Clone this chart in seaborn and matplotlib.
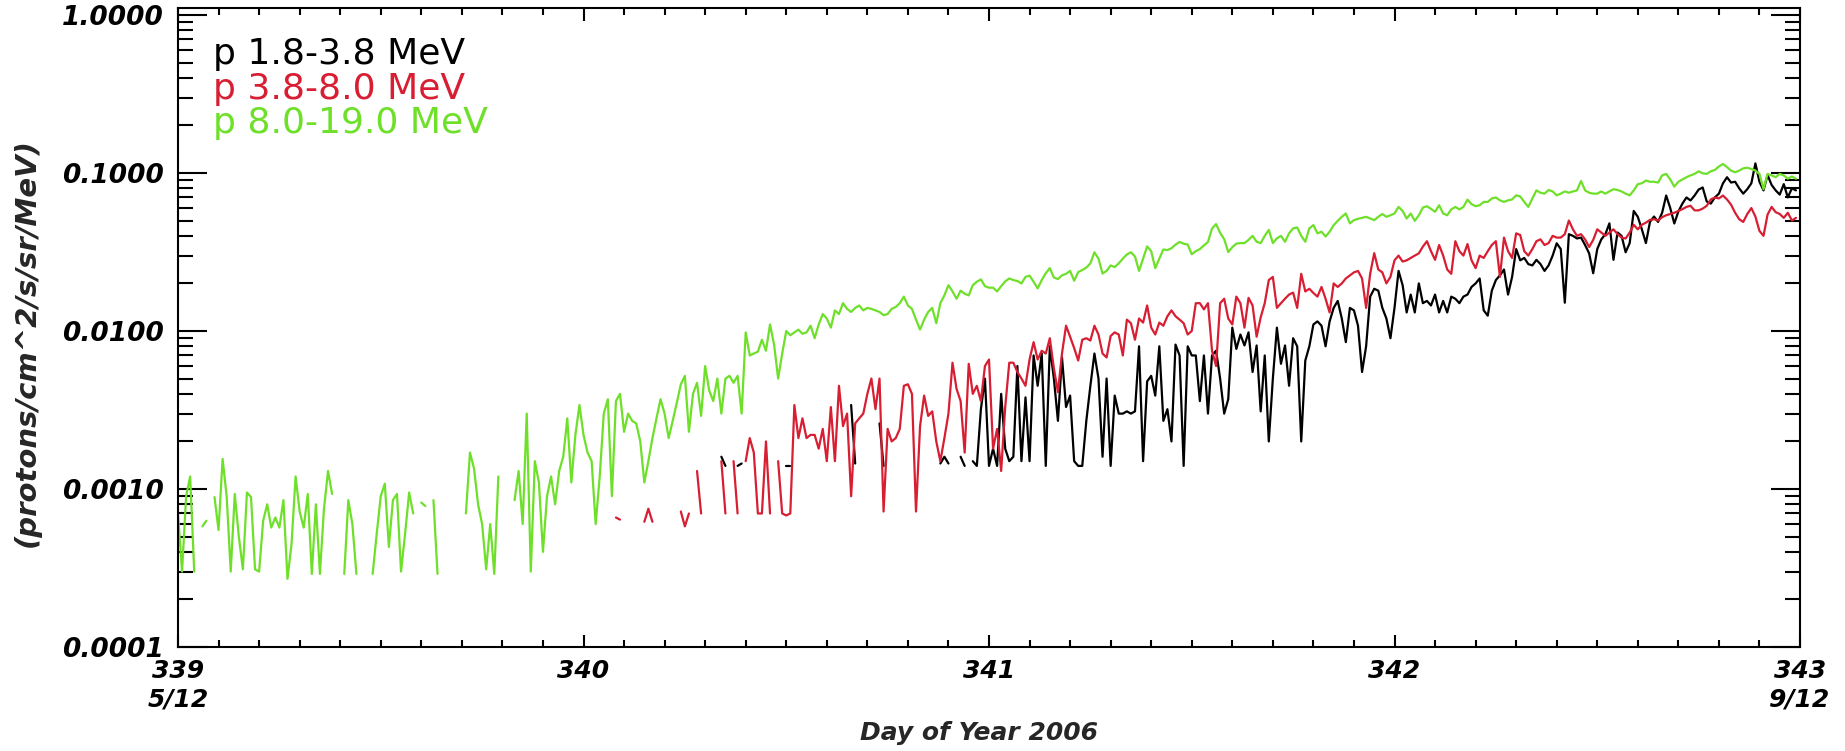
import numpy as np
import pandas as pd
import matplotlib
matplotlib.use("Agg")
import matplotlib.pyplot as plt
import seaborn as sns
from matplotlib.ticker import FixedLocator, MultipleLocator, LogLocator, NullFormatter

nan = float("nan")

# ---------------- data (time grid: day of year, 0.01-day steps) ----------------
day_start = 339.0
day_step = 0.01
n_points = 400

# p 1.8-3.8 MeV (black)
flux_p1 = ([nan] * 134 + [0.0016, 0.0014] + [nan] * 2 + [0.0014, 0.00145] + [nan] * 10
           + [0.0014, 0.0014] + [nan] * 14 + [0.0034, 0.00145] + [nan] * 5 + [0.0026, 0.0014]
           + [nan] * 13 + [0.00145, 0.0016, 0.00145] + [nan] * 2 + [0.0016, 0.0014] + [nan]
           + [0.0015, 0.0014, 0.0032, 0.0050,
              0.0014, 0.0018, 0.0014, 0.0040, 0.0018, 0.0015, 0.0016, 0.0060, 0.0015, 0.0038,
              0.0015, 0.0070, 0.0045, 0.0072, 0.0014, 0.0080, 0.0050, 0.0027, 0.0068, 0.0033,
              0.0039, 0.0015, 0.0014, 0.0014, 0.0027, 0.0045, 0.0072, 0.0050, 0.0016, 0.0050,
              0.0014, 0.0039, 0.0030, 0.0030, 0.0031, 0.0030, 0.0031, 0.0080, 0.0015, 0.0048,
              0.0052, 0.0039, 0.0080, 0.0027, 0.0032, 0.0020, 0.0082, 0.0070, 0.0014, 0.0080,
              0.0070, 0.0070, 0.0036, 0.0070, 0.0030, 0.0070, 0.0075, 0.0050, 0.0030, 0.0037,
              0.0105, 0.0077, 0.0095, 0.0081, 0.0098, 0.0055, 0.0081, 0.0031, 0.0070, 0.0020,
              0.0050, 0.0105, 0.0062, 0.0081, 0.0045, 0.0090, 0.0080, 0.0020, 0.0065, 0.0080,
              0.0110, 0.0115, 0.0108, 0.0080, 0.0115, 0.0140, 0.0155, 0.0120, 0.0085, 0.0140,
              0.0135, 0.0108, 0.0055, 0.0080, 0.0165, 0.0185, 0.0180, 0.0140, 0.0120, 0.0090,
              0.0140, 0.0240, 0.0195, 0.0131, 0.0170, 0.0131, 0.0200, 0.0150, 0.0155, 0.0145,
              0.0170, 0.0131, 0.0155, 0.0131, 0.0165, 0.0160, 0.0150, 0.0165, 0.0170, 0.0190,
              0.0200, 0.0215, 0.0135, 0.0125, 0.0180, 0.0210, 0.0225, 0.0245, 0.0170, 0.0220,
              0.0330, 0.0280, 0.0290, 0.0265, 0.0260, 0.0282, 0.0265, 0.0240, 0.0260, 0.0300,
              0.0359, 0.0330, 0.0151, 0.0410, 0.0400, 0.0385, 0.0390, 0.0350, 0.0310, 0.0232,
              0.0330, 0.0380, 0.0410, 0.0480, 0.0282, 0.0420, 0.0400, 0.0315, 0.0360, 0.0575,
              0.0528, 0.0440, 0.0360, 0.0490, 0.0530, 0.0490, 0.0560, 0.0720, 0.0600, 0.0479,
              0.0570, 0.0640, 0.0700, 0.0670, 0.0720, 0.0785, 0.0810, 0.0660, 0.0640, 0.0700,
              0.0740, 0.0860, 0.0940, 0.0870, 0.0880, 0.0800, 0.0740, 0.0790, 0.0860, 0.1150,
              0.0880, 0.0776, 0.0970, 0.0840, 0.0776, 0.0730, 0.0850, 0.0700, 0.0800, 0.0776])

# p 3.8-8.0 MeV (red)
flux_p2 = ([nan] * 108 + [0.00066, 0.00064] + [nan] * 5 + [0.00062, 0.00075, 0.00062] + [nan] * 6
           + [0.00072, 0.00058, 0.00070] + [nan] + [0.0013, 0.0007] + [nan] * 4 + [0.0015, 0.0007]
           + [nan] + [0.0015, 0.0007] + [nan]
           + [0.0015, 0.0021, 0.0017, 0.0007, 0.0007, 0.0020, 0.0007] + [nan]
           + [0.0015, 0.0007, 0.00068, 0.0007]
           + [0.0034, 0.0021, 0.0028, 0.0021, 0.0022, 0.0022, 0.0018, 0.0024,
              0.0015, 0.0033, 0.0015, 0.0045, 0.0025, 0.0030, 0.0009, 0.0026, 0.0028, 0.0030,
              0.0040, 0.0050, 0.0032, 0.0050, 0.00072, 0.0024, 0.0020, 0.0021, 0.0024, 0.0045,
              0.0046, 0.0040, 0.00072, 0.0025, 0.0039, 0.0029, 0.0031, 0.0020, 0.0015, 0.0021,
              0.0030, 0.0063, 0.0043, 0.0036, 0.0017, 0.0062, 0.0040, 0.0045, 0.0036, 0.0060,
              0.0066, 0.0018, 0.0024, 0.0013, 0.0033, 0.0063, 0.0063, 0.0055, 0.0050, 0.0045,
              0.0066, 0.0085, 0.0066, 0.0075, 0.0072, 0.0090, 0.0058, 0.0041, 0.0072, 0.0108,
              0.0092, 0.0078, 0.0065, 0.0088, 0.0090, 0.0087, 0.0108, 0.0095, 0.0072, 0.0068,
              0.0093, 0.0098, 0.0095, 0.0070, 0.0118, 0.0112, 0.0088, 0.0120, 0.0113, 0.0145,
              0.0105, 0.0095, 0.0113, 0.0108, 0.0124, 0.0135, 0.0124, 0.0118, 0.0112, 0.0095,
              0.0100, 0.0150, 0.0150, 0.0137, 0.0150, 0.0075, 0.0060, 0.0150, 0.0160, 0.0120,
              0.0110, 0.0165, 0.0150, 0.0105, 0.0162, 0.0145, 0.0092, 0.0122, 0.0150, 0.0210,
              0.0220, 0.0140, 0.0150, 0.0160, 0.0170, 0.0175, 0.0140, 0.0230, 0.0178, 0.0185,
              0.0174, 0.0165, 0.0190, 0.0160, 0.0131, 0.0200, 0.0190, 0.0200, 0.0215, 0.0225,
              0.0235, 0.0240, 0.0215, 0.0140, 0.0230, 0.0311, 0.0245, 0.0235, 0.0200, 0.0220,
              0.0280, 0.0300, 0.0275, 0.0280, 0.0290, 0.0300, 0.0310, 0.0342, 0.0370, 0.0320,
              0.0282, 0.0350, 0.0300, 0.0245, 0.0230, 0.0370, 0.0320, 0.0300, 0.0355, 0.0280,
              0.0250, 0.0300, 0.0290, 0.0320, 0.0350, 0.0370, 0.0220, 0.0390, 0.0320, 0.0290,
              0.0415, 0.0405, 0.0320, 0.0300, 0.0330, 0.0370, 0.0380, 0.0350, 0.0360, 0.0400,
              0.0390, 0.0390, 0.0410, 0.0500, 0.0440, 0.0400, 0.0410, 0.0380, 0.0340, 0.0377,
              0.0440, 0.0420, 0.0400, 0.0420, 0.0440, 0.0410, 0.0390, 0.0385, 0.0420, 0.0470,
              0.0440, 0.0470, 0.0485, 0.0505, 0.0510, 0.0500, 0.0525, 0.0540, 0.0550, 0.0560,
              0.0575, 0.0590, 0.0610, 0.0620, 0.0580, 0.0580, 0.0595, 0.0620, 0.0680, 0.0700,
              0.0690, 0.0720, 0.0680, 0.0630, 0.0560, 0.0510, 0.0490, 0.0550, 0.0600, 0.0530,
              0.0430, 0.0400, 0.0545, 0.0610, 0.0565, 0.0550, 0.0520, 0.0560, 0.0500, 0.0520])

# p 8.0-19.0 MeV (green)
flux_p3 = [0.0007, 0.0003, 0.0009, 0.0012, 0.0003, nan, 0.00058, 0.00063, nan, 0.00089,
           0.00055, 0.00155, 0.0009, 0.0003, 0.00093, 0.0005, 0.00031, 0.00095, 0.00089, 0.00031,
           0.0003, 0.00063, 0.0008, 0.00057, 0.00066, 0.00057, 0.00085, 0.00027, 0.00045, 0.0012,
           0.00072, 0.00057, 0.00093, 0.00029, 0.0008, 0.00029, 0.00075, 0.0013, 0.00093, nan,
           nan, 0.00029, 0.00085, 0.0006, 0.00029, nan, nan, nan, 0.00029, 0.00052,
           0.0009, 0.00108, 0.00043, 0.00085, 0.00093, 0.0003, 0.00052, 0.00095, 0.0007, nan,
           0.00082, 0.00078, nan, 0.00085, 0.00029, nan, nan, nan, nan, nan,
           nan, 0.0007, 0.0017, 0.00135, 0.0008, 0.0006, 0.00031, 0.0006, 0.00029, 0.0012,
           nan, nan, nan, 0.00085, 0.0013, 0.0006, 0.0030, 0.0003, 0.0015, 0.0011,
           0.0004, 0.0009, 0.0012, 0.0008, 0.0013, 0.0016, 0.0028, 0.0011, 0.0022, 0.0034,
           0.0022, 0.0017, 0.0015, 0.0006, 0.0012, 0.0030, 0.0037, 0.0009, 0.0036, 0.0040,
           0.0023, 0.0030, 0.0027, 0.0026, 0.0020, 0.0011, 0.0015, 0.0021, 0.0028, 0.0037,
           0.0030, 0.0021, 0.0027, 0.0035, 0.0046, 0.0052, 0.0023, 0.0040, 0.0047, 0.0029,
           0.0060, 0.0042, 0.0036, 0.0050, 0.0030, 0.0050, 0.0052, 0.0047, 0.0052, 0.0030,
           0.0098, 0.0070, 0.0072, 0.0074, 0.0088, 0.0075, 0.0110, 0.0082, 0.0050, 0.0072,
           0.0100, 0.0094, 0.0098, 0.0102, 0.0096, 0.0098, 0.0108, 0.0090, 0.0110, 0.0128,
           0.0120, 0.0105, 0.0135, 0.0128, 0.0150, 0.0138, 0.0132, 0.0140, 0.0145, 0.0135,
           0.0140, 0.0138, 0.0135, 0.0132, 0.0126, 0.0128, 0.0138, 0.0142, 0.0150, 0.0165,
           0.0145, 0.0138, 0.0118, 0.0102, 0.0118, 0.0132, 0.0140, 0.0112, 0.0150, 0.0168,
           0.0195, 0.0178, 0.0160, 0.0180, 0.0172, 0.0168, 0.0195, 0.0205, 0.0212, 0.0192,
           0.0188, 0.0188, 0.0178, 0.0192, 0.0206, 0.0215, 0.0210, 0.0207, 0.0200, 0.0220,
           0.0224, 0.0205, 0.0186, 0.0210, 0.0232, 0.0250, 0.0218, 0.0213, 0.0225, 0.0230,
           0.0240, 0.0208, 0.0236, 0.0243, 0.0252, 0.0268, 0.0315, 0.0287, 0.0231, 0.0240,
           0.0260, 0.0254, 0.0268, 0.0287, 0.0305, 0.0315, 0.0296, 0.0240, 0.0287, 0.0343,
           0.0320, 0.0250, 0.0287, 0.0328, 0.0325, 0.0334, 0.0352, 0.0366, 0.0357, 0.0352,
           0.0306, 0.0320, 0.0330, 0.0348, 0.0366, 0.0445, 0.0475, 0.0418, 0.0381, 0.0316,
           0.0339, 0.0357, 0.0360, 0.0360, 0.0377, 0.0400, 0.0367, 0.0360, 0.0400, 0.0436,
           0.0360, 0.0386, 0.0400, 0.0367, 0.0415, 0.0446, 0.0452, 0.0400, 0.0367, 0.0446,
           0.0468, 0.0415, 0.0425, 0.0396, 0.0425, 0.0468, 0.0498, 0.0528, 0.0554, 0.0480,
           0.0503, 0.0513, 0.0520, 0.0528, 0.0515, 0.0503, 0.0528, 0.0550, 0.0528, 0.0540,
           0.0554, 0.0610, 0.0575, 0.0515, 0.0554, 0.0498, 0.0540, 0.0604, 0.0616, 0.0593,
           0.0568, 0.0625, 0.0554, 0.0540, 0.0588, 0.0610, 0.0588, 0.0610, 0.0678, 0.0635,
           0.0616, 0.0625, 0.0656, 0.0656, 0.0690, 0.0700, 0.0671, 0.0656, 0.0671, 0.0680,
           0.0722, 0.0710, 0.0656, 0.0610, 0.0690, 0.0776, 0.0750, 0.0740, 0.0780, 0.0764,
           0.0722, 0.0740, 0.0764, 0.0750, 0.0764, 0.0776, 0.0890, 0.0776, 0.0750, 0.0740,
           0.0740, 0.0764, 0.0740, 0.0764, 0.0790, 0.0780, 0.0764, 0.0740, 0.0722, 0.0776,
           0.0850, 0.0860, 0.0896, 0.0880, 0.0880, 0.0870, 0.0965, 0.0987, 0.0910, 0.0820,
           0.0880, 0.0910, 0.0940, 0.0965, 0.0987, 0.1025, 0.0995, 0.0987, 0.1025, 0.1045,
           0.1100, 0.1140, 0.1090, 0.1035, 0.1010, 0.1035, 0.1070, 0.1080, 0.1060, 0.1035,
           0.0987, 0.0790, 0.0987, 0.0965, 0.0940, 0.0987, 0.0965, 0.0920, 0.0950, 0.0920]

channels = ["p 1.8-3.8 MeV", "p 3.8-8.0 MeV", "p 8.0-19.0 MeV"]
colors = ["#000000", "#d81e32", "#6ee02a"]

x_ticks = [339, 340, 341, 342, 343]
x_ticklabels = ["339\n5/12", "340", "341", "342", "343\n9/12"]
y_ticks = [1e-4, 1e-3, 1e-2, 1e-1, 1.0]
y_ticklabels = ["0.0001", "0.0010", "0.0100", "0.1000", "1.0000"]

# ---------------- plotting ----------------
sns.set_style("ticks")
plt.rcParams["font.family"] = ["DejaVu Sans"]

fig = plt.figure(figsize=(18.45, 7.51), dpi=100)
W, H = 1845.0, 751.0
ax = fig.add_axes([178 / W, 1 - 647 / H, 1622 / W, 639 / H])

days = np.round(day_start + day_step * np.arange(n_points), 2)

for name, flux, color in zip(channels, [flux_p1, flux_p2, flux_p3], colors):
    arr = np.array(flux, dtype=float)
    assert len(arr) == n_points, (name, len(arr))
    valid = ~np.isnan(arr)
    seg = np.cumsum(~valid)
    df = pd.DataFrame({"day": days[valid], "flux": arr[valid], "seg": seg[valid]})
    sns.lineplot(data=df, x="day", y="flux", units="seg", estimator=None,
                 color=color, linewidth=1.6, ax=ax, legend=False)

ax.set_yscale("log")
ax.set_xlim(339, 343)
ax.set_ylim(1e-4, 1.107)

ax.xaxis.set_major_locator(FixedLocator(x_ticks))
ax.set_xticklabels(x_ticklabels)
ax.xaxis.set_minor_locator(MultipleLocator(0.1))
ax.yaxis.set_major_locator(FixedLocator(y_ticks))
ax.set_yticklabels(y_ticklabels)
ax.yaxis.set_minor_locator(LogLocator(base=10, subs=np.arange(2, 10) * 1.0, numticks=50))
ax.yaxis.set_minor_formatter(NullFormatter())

ax.tick_params(which="both", direction="in", top=True, right=True, width=1.5, colors="black")
ax.tick_params(axis="y", which="major", length=21, pad=10)
ax.tick_params(axis="y", which="minor", length=11)
ax.tick_params(axis="x", which="major", length=9, pad=9)
ax.tick_params(axis="x", which="minor", length=5)

for lbl in ax.get_xticklabels():
    lbl.set_fontweight("bold")
    lbl.set_fontstyle("italic")
    lbl.set_fontsize(18)
for lbl in ax.get_yticklabels():
    lbl.set_fontweight("bold")
    lbl.set_fontstyle("italic")
    lbl.set_fontsize(19)

for sp in ax.spines.values():
    sp.set_linewidth(1.5)
    sp.set_color("black")

ax.set_ylabel("(protons/cm^2/s/sr/MeV)", fontsize=21, fontweight="bold", fontstyle="italic")
ax.yaxis.label.set_verticalalignment("center")
ax.yaxis.set_label_coords(-0.093, 0.476)

ax.set_xlabel("Day of Year 2006", fontsize=18, fontweight="bold", fontstyle="italic")
ax.xaxis.label.set_verticalalignment("center")
ax.xaxis.set_label_coords(0.494, -0.1347)

legend_y = [0.913, 0.858, 0.805]
for name, color, yy in zip(channels, colors, legend_y):
    ax.text(0.0216, yy, name, transform=ax.transAxes, color=color,
            fontsize=26, ha="left", va="baseline")

fig.savefig("out.png", dpi=100)
